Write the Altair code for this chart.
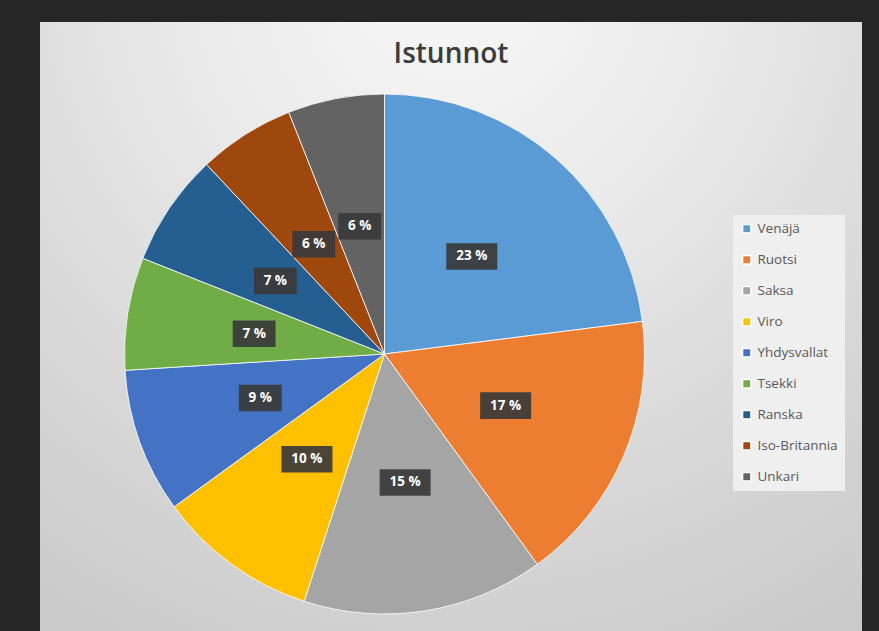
import altair as alt
import pandas as pd

countries = ["Venäjä", "Ruotsi", "Saksa", "Viro", "Yhdysvallat", "Tsekki",
             "Ranska", "Iso-Britannia", "Unkari"]
shares = [23, 17, 15, 10, 9, 7, 7, 6, 6]
colors = ["#5B9BD5", "#ED7D31", "#A5A5A5", "#FFC000", "#4472C4", "#70AD47",
          "#255E91", "#9E480E", "#636363"]

df = pd.DataFrame({"country": countries, "share": shares,
                   "idx": list(range(len(countries)))})

W, H = 822, 609
CX, CY = 344.5, 332
R = 260

color_scale = alt.Scale(domain=countries, range=colors)

panel = alt.Chart(pd.DataFrame({"p": [0]})).mark_rect(
    fill={"gradient": "radial", "x1": 0.5, "y1": 0.08, "r1": 0,
          "x2": 0.5, "y2": 0.08, "r2": 1.0,
          "stops": [{"offset": 0, "color": "#f7f7f7"},
                    {"offset": 0.3, "color": "#ebebeb"},
                    {"offset": 0.65, "color": "#d7d7d7"},
                    {"offset": 1, "color": "#c6c6c6"}]},
).encode(x=alt.value(0), x2=alt.value(W), y=alt.value(0), y2=alt.value(H))

base = alt.Chart(df)

pie = base.mark_arc(outerRadius=R, stroke="#ffffff", strokeWidth=0.8).encode(
    theta=alt.Theta("share:Q", stack=True),
    order=alt.Order("idx:Q"),
    color=alt.Color("country:N", scale=color_scale, sort=countries,
                    legend=alt.Legend(title=None, orient="none",
                                      legendX=693, legendY=193)),
    x=alt.value(CX),
    y=alt.value(CY),
)

lab = base.transform_joinaggregate(
    total="sum(share)"
).transform_window(
    cum="sum(share)", sort=[alt.SortField("idx")], frame=[None, 0]
).transform_calculate(
    mid="(datum.cum - datum.share / 2) / datum.total * 2 * PI",
    lx="sin(datum.mid)",
    ly="cos(datum.mid)",
    label="datum.share + ' %'",
    box="length(datum.share + '') > 1 ? 'M-1,-0.52H1V0.52H-1Z' : 'M-0.84,-0.52H0.84V0.52H-0.84Z'",
)

xs = alt.Scale(domain=[-1, 1], range=[CX - 132, CX + 132])
ys = alt.Scale(domain=[-1, 1], range=[CY + 130, CY - 130])

boxes = lab.mark_point(filled=True, size=2600, color="#3a3a3a", opacity=0.92,
                       strokeWidth=0).encode(
    x=alt.X("lx:Q", scale=xs, axis=None),
    y=alt.Y("ly:Q", scale=ys, axis=None),
    shape=alt.Shape("box:N", scale=None),
)

texts = lab.mark_text(font="Open Sans", fontSize=13.5, fontWeight="bold",
                      color="#ffffff", baseline="middle", align="center").encode(
    x=alt.X("lx:Q", scale=xs, axis=None),
    y=alt.Y("ly:Q", scale=ys, axis=None),
    text="label:N",
)

chart = alt.layer(panel, pie, boxes, texts).properties(
    width=W, height=H,
    padding={"left": 40, "top": 22, "right": 17, "bottom": 0},
    autosize="none",
    background="#262626",
    title=alt.TitleParams("Istunnot", fontSize=28, font="Open Sans",
                          fontWeight=600, color="#3c3c3c", anchor="middle",
                          offset=-69, baseline="alphabetic"),
).configure_view(
    stroke=None,
).configure_legend(
    fillColor="#efefef", padding=7, symbolType="square", symbolSize=70,
    labelFont="Open Sans", labelFontSize=13.5, labelColor="#595959",
    rowPadding=16, labelOffset=4, labelLimit=200,
)

chart.save("out.html", embed_options={"renderer": "svg", "actions": False})
